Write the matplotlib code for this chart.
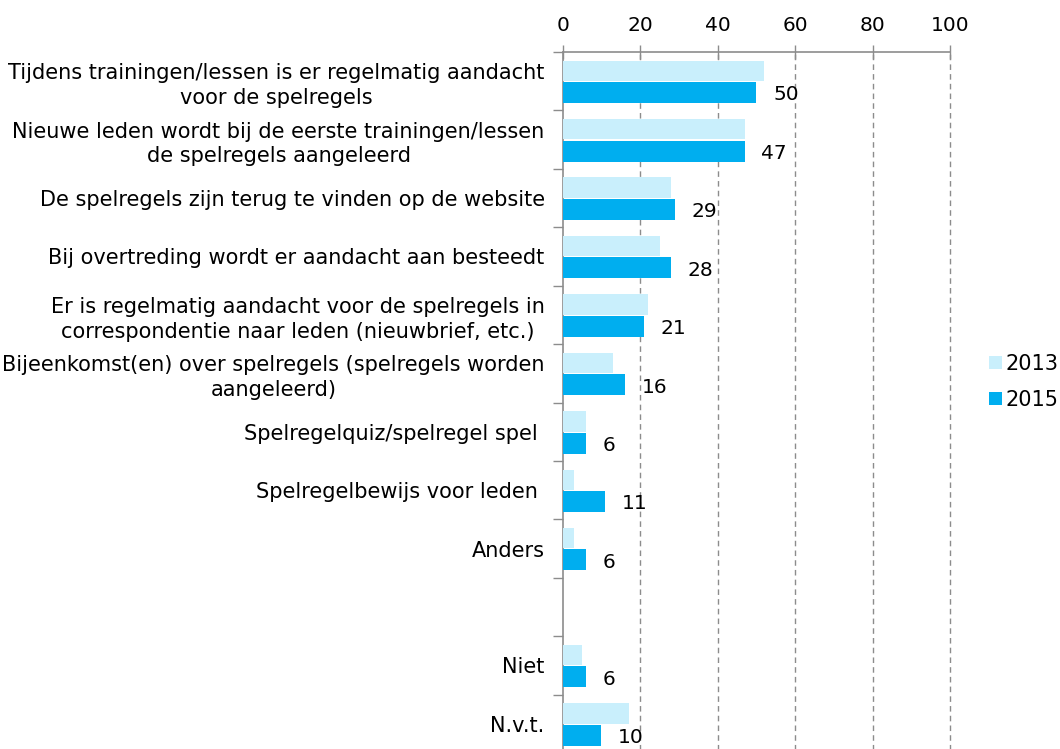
import numpy as np
import matplotlib
matplotlib.use("Agg")
import matplotlib.pyplot as plt
from matplotlib.patches import Patch

categories = [
    "Tijdens trainingen/lessen is er regelmatig aandacht\nvoor de spelregels",
    "Nieuwe leden wordt bij de eerste trainingen/lessen\nde spelregels aangeleerd",
    "De spelregels zijn terug te vinden op de website",
    "Bij overtreding wordt er aandacht aan besteedt",
    "Er is regelmatig aandacht voor de spelregels in\ncorrespondentie naar leden (nieuwbrief, etc.)",
    "Bijeenkomst(en) over spelregels (spelregels worden\naangeleerd)",
    "Spelregelquiz/spelregel spel ",
    "Spelregelbewijs voor leden ",
    "Anders",
    "",
    "Niet",
    "N.v.t.",
]
values_2013 = [52, 47, 28, 25, 22, 13, 6, 3, 3, np.nan, 5, 17]
values_2015 = [50, 47, 29, 28, 21, 16, 6, 11, 6, np.nan, 6, 10]
series_names = ["2013", "2015"]
x_ticks = [0, 20, 40, 60, 80, 100]

c2013 = "#C9EFFC"
c2015 = "#00AEEF"
gray = "#8C8C8C"
fs = 14.5

plt.rcParams['font.family'] = ['DejaVu Sans']
fig = plt.figure(figsize=(10.6, 7.49), dpi=100)
ax = fig.add_axes([562.7 / 1060, 1 - 753 / 749, (950 - 562.7) / 1060, (753 - 52) / 749])

y = np.arange(len(categories))
ax.barh(y - 0.178, values_2013, height=0.35, color=c2013, label=series_names[0], zorder=3)
ax.barh(y + 0.195, values_2015, height=0.36, color=c2015, label=series_names[1], zorder=3)

for yi, v in zip(y, values_2015):
    if not np.isnan(v):
        ax.annotate(f"{v:g}", xy=(v, yi + 0.2), xytext=(12, -1.5), textcoords="offset points",
                    va="center", ha="left", fontsize=fs, color="black", zorder=4)

ax.set_xlim(0, 100)
ax.set_ylim(len(categories) - 0.5, -0.5)
ax.xaxis.tick_top()
ax.set_xticks(x_ticks)
ax.set_xticklabels([str(t) for t in x_ticks], fontsize=fs)
ax.tick_params(axis="x", direction="inout", length=10, width=1, color=gray, pad=7)

ax.set_yticks(y)
ax.set_yticklabels(categories, fontsize=15, ha="right", multialignment="center", linespacing=1.3)
ax.tick_params(axis="y", which="major", length=0, pad=13)
ax.set_yticks(np.arange(-0.5, len(categories), 1), minor=True)
ax.tick_params(axis="y", which="minor", length=7, width=1, color=gray, direction="out")

for t in x_ticks[1:]:
    ax.axvline(t, color=gray, linestyle=(0, (4, 3)), linewidth=1, zorder=1, clip_on=False)

for s in ["right", "bottom"]:
    ax.spines[s].set_visible(False)
for s in ["top", "left"]:
    ax.spines[s].set_color(gray)
    ax.spines[s].set_linewidth(1.2)

handles = [Patch(facecolor=c2013, edgecolor="none"), Patch(facecolor=c2015, edgecolor="none")]
fig.legend(handles, series_names, loc="center left", bbox_to_anchor=(979 / 1060, 1 - 382 / 749),
           frameon=False, fontsize=15, handlelength=0.6, handleheight=0.6,
           handletextpad=0.15, labelspacing=0.75, borderpad=0)

fig.savefig("out.png", dpi=100)
